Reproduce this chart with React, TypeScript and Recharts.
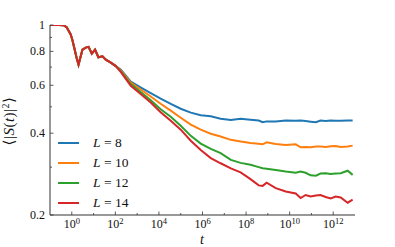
import React from 'react';
import { Line, LineChart, XAxis, YAxis } from 'recharts';

// time grid (t)
const times = [
  0.1, 0.25, 0.43, 0.59, 0.89, 1.05, 1.29, 1.66, 2.04, 3.09, 4.37, 5.89, 8.3, 11.7, 16.6, 25.7, 36.3, 61.7, 105,
  180, 510, 1500, 4200, 1.2e4, 3.5e4, 1e5, 2.9e5, 8.3e5, 2.4e6, 6.8e6, 2e7, 5.6e7, 1.6e8, 3.8e8, 5.8e8, 8.8e8,
  2.3e9, 6.6e9, 1.9e10, 3.2e10, 5.4e10, 9.2e10, 1.6e11, 2.6e11, 4.5e11, 7.6e11, 1.3e12, 2.2e12, 4.6e12, 7.8e12,
];

const L8 = [
  1.0, 1.0, 0.998, 0.979, 0.923, 0.884, 0.826, 0.758, 0.715, 0.812, 0.826, 0.831, 0.785, 0.812, 0.761, 0.767, 0.746, 0.727, 0.706,
  0.685, 0.619, 0.588, 0.562, 0.536, 0.513, 0.492, 0.476, 0.466, 0.462, 0.452, 0.447, 0.452, 0.448, 0.445, 0.439, 0.442,
  0.442, 0.445, 0.444, 0.445, 0.443, 0.441, 0.439, 0.445, 0.443, 0.445, 0.444, 0.444, 0.445, 0.445,
];
const L10 = [
  1.0, 1.0, 0.998, 0.979, 0.923, 0.884, 0.826, 0.758, 0.715, 0.812, 0.826, 0.831, 0.785, 0.812, 0.761, 0.767, 0.746, 0.727, 0.706,
  0.679, 0.614, 0.578, 0.546, 0.513, 0.484, 0.456, 0.43, 0.412, 0.398, 0.389, 0.378, 0.373, 0.368, 0.366, 0.364, 0.37,
  0.365, 0.362, 0.364, 0.355, 0.356, 0.355, 0.357, 0.357, 0.356, 0.358, 0.359, 0.356, 0.357, 0.36,
];
const L12 = [
  1.0, 1.0, 0.998, 0.979, 0.923, 0.884, 0.826, 0.758, 0.715, 0.812, 0.826, 0.831, 0.785, 0.812, 0.761, 0.767, 0.746, 0.727, 0.706,
  0.674, 0.606, 0.566, 0.529, 0.49, 0.46, 0.426, 0.391, 0.366, 0.35, 0.338, 0.319, 0.311, 0.306, 0.3, 0.297, 0.296,
  0.293, 0.289, 0.286, 0.289, 0.286, 0.28, 0.279, 0.284, 0.285, 0.283, 0.284, 0.285, 0.291, 0.281,
];
const L14 = [
  1.0, 1.0, 0.998, 0.979, 0.923, 0.884, 0.826, 0.758, 0.715, 0.812, 0.826, 0.831, 0.785, 0.812, 0.761, 0.767, 0.746, 0.727, 0.706,
  0.671, 0.598, 0.556, 0.519, 0.478, 0.444, 0.412, 0.375, 0.347, 0.324, 0.31, 0.297, 0.287, 0.271, 0.257, 0.256, 0.263,
  0.251, 0.244, 0.24, 0.231, 0.237, 0.234, 0.236, 0.237, 0.233, 0.23, 0.234, 0.232, 0.222, 0.228,
];

const seriesNames = ['8', '10', '12', '14'];
const seriesKeys = ['L8', 'L10', 'L12', 'L14'];
const seriesColors = ['#1f77b4', '#ff7f0e', '#2ca02c', '#d62728'];

const xTicks = [1, 10, 100, 1e3, 1e4, 1e5, 1e6, 1e7, 1e8, 1e9, 1e10, 1e11, 1e12];
const yTicks = [0.2, 0.3, 0.4, 0.5, 0.6, 0.7, 0.8, 0.9, 1];
const yLabels: Record<string, string> = { '0.2': '0.2', '0.4': '0.4', '0.6': '0.6', '0.8': '0.8', '1': '1' };

const data = times.map((t, i) => ({ t, L8: L8[i], L10: L10[i], L12: L12[i], L14: L14[i] }));

const FONT = '"Liberation Serif", "DejaVu Serif", serif';
const AXIS = '#333';

const XTick = (props: any) => {
  const { x, y, payload } = props;
  const e = Math.round(Math.log10(payload.value));
  const major = e % 2 === 0;
  return (
    <g>
      <line x1={x} x2={x} y1={y} y2={y - (major ? 3.5 : 2)} stroke={AXIS} strokeWidth={0.8} />
      {major && (
        <text x={x} y={y + 13} textAnchor="middle" fontFamily={FONT} fontSize={12} fill="#111">
          10
          <tspan dy={-4.5} fontSize={8.5}>
            {e}
          </tspan>
        </text>
      )}
    </g>
  );
};

const YTick = (props: any) => {
  const { x, y, payload } = props;
  const label = yLabels[String(payload.value)];
  return (
    <g>
      <line x1={x} x2={x + (label ? 3.5 : 2)} y1={y} y2={y} stroke={AXIS} strokeWidth={0.8} />
      {label && (
        <text x={x - 5} y={y + 4} textAnchor="end" fontFamily={FONT} fontSize={12} fill="#111">
          {label}
        </text>
      )}
    </g>
  );
};

const App = () => {
  return (
    <div style={{ position: 'absolute', left: 0, top: 0, width: 395, height: 247, background: '#fff' }}>
      <LineChart width={395} height={247} data={data} margin={{ top: 25, right: 40, bottom: 0, left: 0 }}>
        <XAxis
          dataKey="t"
          type="number"
          scale="log"
          domain={[0.1, 1e13]}
          ticks={xTicks}
          interval={0}
          tick={<XTick />}
          tickSize={0}
          tickMargin={0}
          tickLine={false}
          height={32}
          axisLine={{ stroke: AXIS, strokeWidth: 1 }}
          allowDataOverflow
        />
        <YAxis
          type="number"
          scale="log"
          domain={[0.2, 1]}
          ticks={yTicks}
          interval={0}
          tick={<YTick />}
          tickSize={0}
          tickMargin={0}
          tickLine={false}
          width={50}
          axisLine={{ stroke: AXIS, strokeWidth: 1 }}
          allowDataOverflow
        />
        {seriesKeys.map((k, i) => (
          <Line
            key={k}
            dataKey={k}
            name={seriesNames[i]}
            type="linear"
            stroke={seriesColors[i]}
            strokeWidth={2}
            dot={false}
            isAnimationActive={false}
          />
        ))}
      </LineChart>

      {/* legend */}
      <div style={{ position: 'absolute', left: 58, top: 133, fontFamily: FONT, fontSize: 13.5, color: '#111' }}>
        {seriesNames.map((n, i) => (
          <div key={n} style={{ height: 20, display: 'flex', alignItems: 'center' }}>
            <span style={{ display: 'inline-block', width: 21, height: 2, background: seriesColors[i] }} />
            <span style={{ marginLeft: 14 }}>
              <i>L</i> = {n}
            </span>
          </div>
        ))}
      </div>

      {/* axis titles */}
      <svg width={395} height={247} style={{ position: 'absolute', left: 0, top: 0, pointerEvents: 'none' }}>
        <text x={202} y={244} textAnchor="middle" fontFamily={FONT} fontSize={14} fontStyle="italic" fill="#111">
          t
        </text>
        <text
          x={14}
          y={121}
          transform="rotate(-90 14 121)"
          textAnchor="middle"
          fontFamily={FONT}
          fontSize={15}
          letterSpacing={0.5}
          fill="#111"
        >
          ⟨|<tspan fontStyle="italic">S</tspan>(<tspan fontStyle="italic">t</tspan>)|
          <tspan dy={-5} fontSize={10}>
            2
          </tspan>
          <tspan dy={5}>⟩</tspan>
        </text>
      </svg>
    </div>
  );
};

export default App;
